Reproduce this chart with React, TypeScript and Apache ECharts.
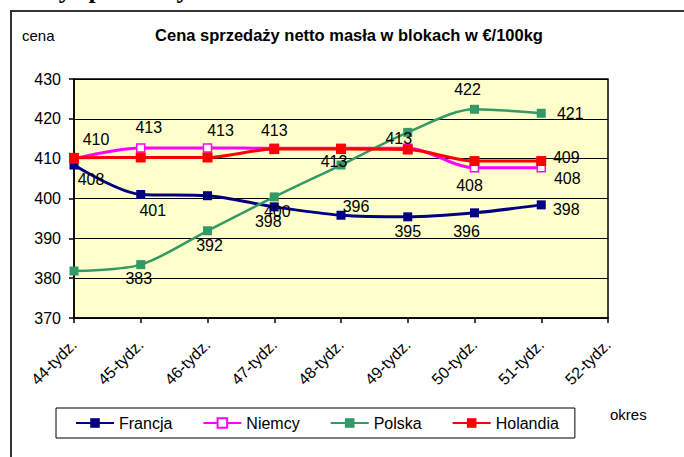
import React, { useEffect, useRef } from "react";
import * as echarts from "echarts";

// ---- data ----
const categories = ["44-tydz.", "45-tydz.", "46-tydz.", "47-tydz.", "48-tydz.", "49-tydz.", "50-tydz.", "51-tydz.", "52-tydz."];
const yTicks = { min: 370, max: 430, step: 10 };
const francja = [408.4, 401.0, 400.7, 397.9, 395.8, 395.4, 396.4, 398.4];
const niemcy = [410.0, 412.7, 412.7, 412.6, 412.6, 412.6, 407.7, 407.7];
const polska = [381.8, 383.4, 391.9, 400.4, 408.4, 416.6, 422.4, 421.4];
const holandia = [410.2, 410.3, 410.3, 412.4, 412.4, 412.3, 409.4, 409.4];
const seriesNames = ["Francja", "Niemcy", "Polska", "Holandia"];
const titleText = "Cena sprzedaży netto masła w blokach w €/100kg";
const headingText = "Ceny sprzedaży masła";
const yName = "cena";
const xName = "okres";

// ---- label placement (style, not data): offset of each data label from its point, null = hidden ----
const francjaLabelOffsets: (number[] | null)[] = [[17, 14], [12, 16], null, [-6, 15], [15, -9], [0, 15], [-8, 19], [25, 5]];
const niemcyLabelOffsets: (number[] | null)[] = [[22, -19], [8, -20], [13, -17], [0, -18], [-7, 13], [-9, -10], [-5, 18], [26, 11]];
const polskaLabelOffsets: (number[] | null)[] = [null, [-2, 14], [2, 15], [3, 15], null, null, [-7, -20], [29, 0]];
const holandiaLabelOffsets: (number[] | null)[] = [null, null, null, null, null, null, null, [25, -4]];

const FONT = "Liberation Sans, Arial, sans-serif";

function buildData(values: number[], offsets: (number[] | null)[]) {
  return values.map((v, i) => {
    const off = offsets[i];
    return {
      value: v,
      label: off
        ? { show: true, position: "inside", offset: off }
        : { show: false },
    };
  });
}

export default function App() {
  const ref = useRef<HTMLDivElement>(null);

  useEffect(() => {
    if (!ref.current) return;
    const chart = echarts.init(ref.current, undefined, { renderer: "svg" });

    const commonLabel = {
      fontSize: 16,
      color: "#000",
      fontFamily: FONT,
      formatter: (p: any) => String(Math.round(p.value)),
    };

    const mk = (
      name: string,
      values: number[],
      offsets: (number[] | null)[],
      color: string,
      width: number,
      symbolSize: number,
      hollow = false
    ) => ({
      name,
      type: "line",
      smooth: 0.3,
      data: buildData(values, offsets),
      symbol: "rect",
      symbolSize,
      showAllSymbol: true,
      lineStyle: { color, width },
      itemStyle: hollow
        ? { color: "#FFFFFF", borderColor: color, borderWidth: 1.5 }
        : { color, borderColor: color, borderWidth: 0 },
      label: commonLabel,
      emphasis: { disabled: true },
    });

    const option: any = {
      animation: false,
      backgroundColor: "#FFFFFF",
      textStyle: { fontFamily: FONT },
      graphic: [
        {
          type: "rect",
          shape: { x: 11, y: 11, width: 720, height: 500 },
          style: { fill: "none", stroke: "#333333", lineWidth: 2 },
          silent: true,
        },
        {
          type: "text",
          x: 14,
          y: 2.5,
          style: {
            text: headingText,
            fontSize: 26,
            fontWeight: "bold",
            fontFamily: "Liberation Serif, Times New Roman, serif",
            fill: "#000",
            align: "left",
            verticalAlign: "bottom",
          },
          silent: true,
        },
        {
          type: "text",
          x: 349,
          y: 35,
          style: {
            text: titleText,
            fontSize: 16.5,
            fontWeight: "bold",
            fontFamily: FONT,
            fill: "#000",
            align: "center",
            verticalAlign: "middle",
          },
          silent: true,
        },
        {
          type: "text",
          x: 22,
          y: 35,
          style: {
            text: yName,
            fontSize: 15,
            fontFamily: FONT,
            fill: "#000",
            align: "left",
            verticalAlign: "middle",
          },
          silent: true,
        },
        {
          type: "text",
          x: 610,
          y: 414,
          style: {
            text: xName,
            fontSize: 15,
            fontFamily: FONT,
            fill: "#000",
            align: "left",
            verticalAlign: "middle",
          },
          silent: true,
        },
      ],
      legend: {
        data: seriesNames,
        left: 56,
        top: 408,
        orient: "horizontal",
        itemWidth: 38,
        itemHeight: 12,
        itemGap: 30,
        padding: [7, 16, 7, 19],
        borderColor: "#000",
        borderWidth: 1,
        backgroundColor: "#FFFFFF",
        textStyle: { fontSize: 16, color: "#000", fontFamily: FONT },
        selectedMode: false,
      },
      grid: {
        left: 74,
        right: 76,
        top: 79,
        bottom: 139,
        show: true,
        backgroundColor: "#FFFFCC",
        borderColor: "#000",
        borderWidth: 1.5,
      },
      xAxis: {
        type: "category",
        boundaryGap: false,
        data: categories,
        axisLine: { show: true, lineStyle: { color: "#000", width: 1.5 } },
        axisTick: { show: true, length: 5, interval: 0, lineStyle: { color: "#000", width: 1.5 } },
        axisLabel: {
          interval: 0,
          rotate: 45,
          fontSize: 16,
          color: "#000",
          fontFamily: FONT,
          margin: 24,
        },
        splitLine: { show: false },
      },
      yAxis: {
        type: "value",
        min: yTicks.min,
        max: yTicks.max,
        interval: yTicks.step,
        axisLine: { show: true, lineStyle: { color: "#000", width: 1.5 } },
        axisTick: { show: true, length: 5, lineStyle: { color: "#000", width: 1.5 } },
        axisLabel: { fontSize: 16, color: "#000", fontFamily: FONT, margin: 13 },
        splitLine: { show: true, lineStyle: { color: "#000", width: 1 } },
      },
      series: [
        mk(seriesNames[0], francja, francjaLabelOffsets, "#000080", 3, 9),
        mk(seriesNames[1], niemcy, niemcyLabelOffsets, "#FF00FF", 3, 8, true),
        mk(seriesNames[2], polska, polskaLabelOffsets, "#339966", 2.5, 9),
        mk(seriesNames[3], holandia, holandiaLabelOffsets, "#FF0000", 3, 10),
      ],
    };

    chart.setOption(option);
    return () => {
      chart.dispose();
    };
  }, []);

  return (
    <div
      ref={ref}
      style={{ position: "fixed", left: 0, top: 0, width: 684, height: 457 }}
    />
  );
}
